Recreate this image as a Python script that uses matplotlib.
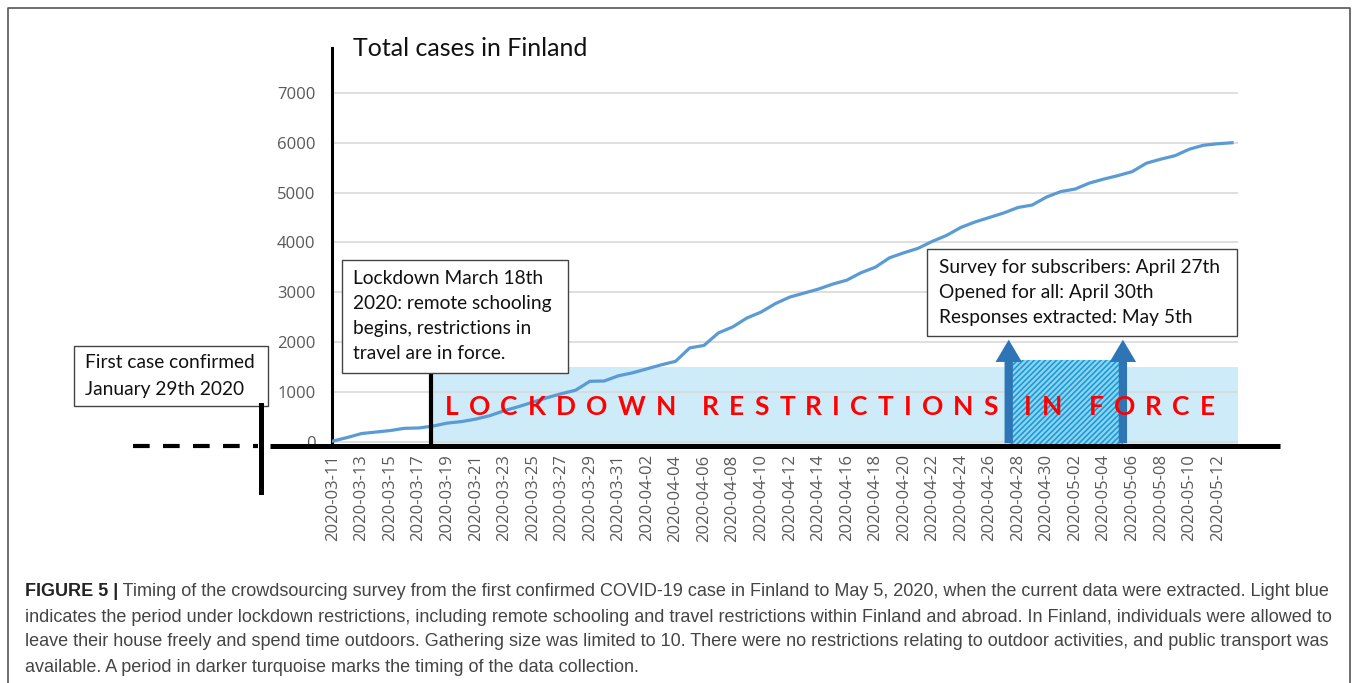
import matplotlib
matplotlib.use("Agg")
import matplotlib.pyplot as plt
from matplotlib.patches import Rectangle, FancyArrowPatch
import pandas as pd

# total confirmed cases, one value per day from 2020-03-11
first_day = "2020-03-11"
total_cases = [10, 80, 160, 190, 220, 265, 272, 310, 370, 400,
               450, 520, 620, 700, 790, 880, 960, 1030, 1210, 1215,
               1320, 1380, 1460, 1540, 1610, 1880, 1930, 2180, 2300, 2480,
               2600, 2770, 2900, 2980, 3060, 3160, 3240, 3390, 3500, 3690,
               3790, 3880, 4020, 4140, 4300, 4410, 4500, 4590, 4700, 4750,
               4910, 5020, 5070, 5190, 5270, 5340, 5420, 5590, 5670, 5740,
               5870, 5950, 5980, 6000]
y_ticks = [0, 1000, 2000, 3000, 4000, 5000, 6000, 7000]
lockdown_day = "2020-03-18"
survey_days = ["2020-04-27", "2020-05-05"]
lockdown_height = 1500
survey_height = 1640
arrow_height = 2100
banner_words = ["LOCKDOWN", "RESTRICTIONS", "IN", "FORCE"]

dates = pd.date_range(first_day, periods=len(total_cases))
days = list(range(len(total_cases)))
tick_days = days[::2]
tick_labels = [d.strftime("%Y-%m-%d") for d in dates[::2]]
lock_i = dates.get_loc(pd.Timestamp(lockdown_day))
s0 = dates.get_loc(pd.Timestamp(survey_days[0])) + 0.35
s1 = dates.get_loc(pd.Timestamp(survey_days[1])) + 0.35

W, H = 1357, 683
fig = plt.figure(figsize=(W / 100, H / 100), dpi=100)

# main plot area (pixel box 332..1280 x 48..446)
ax = fig.add_axes([332 / W, 1 - 446 / H, (1280 - 332) / W, (446 - 48) / H])
ax.set_xlim(-0.07, 66.36)
ax.set_ylim(-90, 7903)
ax.patch.set_visible(False)
for s in ["top", "right", "bottom"]:
    ax.spines[s].set_visible(False)
ax.spines["left"].set_linewidth(2.2)
ax.spines["left"].set_color("black")

grid_end = 63.45
ax.fill_between([lock_i - 0.1, grid_end], -90, lockdown_height, color="#cdebf8", lw=0, zorder=1)
ax.hlines(y_ticks, -0.07, grid_end, color="#d9d9d9", lw=1.2, zorder=2)
plt.rcParams["hatch.linewidth"] = 1.2
ax.fill_between([s0, s1], -90, survey_height, facecolor="#8fd3f0", edgecolor="#1a9cd8",
                hatch="//////", lw=0, zorder=3)
ax.plot(days, total_cases, color="#5b9bd5", lw=2.3, zorder=4)
ax.vlines(lock_i - 0.1, -90, 1430, color="black", lw=3, zorder=5)
for sx in [s0, s1]:
    ax.add_patch(FancyArrowPatch((sx, -90), (sx, arrow_height),
                                 arrowstyle="simple,head_length=1.6,head_width=1.9,tail_width=0.6",
                                 mutation_scale=10, color="#2e75b6", lw=0, zorder=6))

ax.set_yticks(y_ticks)
ax.set_yticklabels([str(v) for v in y_ticks], color="#595959", family="Open Sans", fontsize=12)
ax.set_xticks(tick_days)
ax.set_xticklabels(tick_labels, rotation=90, color="#595959", family="Open Sans", fontsize=12)
ax.tick_params(axis="y", length=0, pad=12)
ax.tick_params(axis="x", length=0, pad=6)

# overlay in pixel coordinates for frame, boxes, caption
ov = fig.add_axes([0, 0, 1, 1], zorder=5)
ov.set_xlim(0, W)
ov.set_ylim(H, 0)
ov.axis("off")
ov.patch.set_visible(False)

ov.plot([8, 8, 1350, 1350], [H, 8, 8, H], color="#555555", lw=1.2)
ov.plot([270, 1280], [446, 446], color="black", lw=3.6, solid_capstyle="butt")
ov.plot([133, 258], [446, 446], color="black", lw=3, dashes=(4, 3.2))
ov.plot([261, 261], [405, 492], color="black", lw=3.6)

# letter-spaced red banner, spread over 445..1215 px
renderer = fig.canvas.get_renderer()
banner_font = dict(fontsize=19, fontweight="bold", color="#ff0000", family="Lato",
                   va="center", ha="left")
letters = []
for word in banner_words:
    row = []
    for ch in word:
        t = ov.text(0, 407, ch, **banner_font)
        row.append((t, t.get_window_extent(renderer).width))
    letters.append(row)
n_letters = sum(len(r) for r in letters)
natural = sum(w for r in letters for _, w in r)
word_extra = 16
gap = (1215 - 445 - natural - word_extra * (len(letters) - 1)) / (n_letters - 1)
x = 445
for row in letters:
    for t, w in row:
        t.set_x(x)
        x += w + gap
    x += word_extra

ov.text(353, 48, "Total cases in Finland", family="Lato", fontsize=18, va="center", color="#111111")

box_font = dict(family="Lato", fontsize=13.8, va="center", color="#111111")
ov.add_patch(Rectangle((74, 346), 194, 60, fc="white", ec="#444444", lw=1))
for i, line in enumerate(["First case confirmed", "January 29th 2020"]):
    ov.text(85, 363 + 26 * i, line, **box_font)

ov.add_patch(Rectangle((342, 260), 226, 113, fc="white", ec="#444444", lw=1))
for i, line in enumerate(["Lockdown March 18th", "2020: remote schooling",
                          "begins, restrictions in", "travel are in force."]):
    ov.text(353, 279 + 24.7 * i, line, **box_font)

ov.add_patch(Rectangle((927, 249), 310, 87, fc="white", ec="#444444", lw=1))
for i, line in enumerate(["Survey for subscribers: April 27th", "Opened for all: April 30th",
                          "Responses extracted: May 5th"]):
    ov.text(939, 267 + 25.5 * i, line, **box_font)

cap_font = dict(family="Liberation Sans", fontsize=13, va="center")
bold = ov.text(25, 592, "FIGURE 5 |", fontweight="bold", color="#222222", **cap_font)
ov.annotate(" Timing of the crowdsourcing survey from the first confirmed COVID-19 case in Finland "
            "to May 5, 2020, when the current data were extracted. Light blue",
            xy=(1, 0.5), xycoords=bold, ha="left", color="#444444", **cap_font)
caption_rest = [
    "indicates the period under lockdown restrictions, including remote schooling and travel "
    "restrictions within Finland and abroad. In Finland, individuals were allowed to",
    "leave their house freely and spend time outdoors. Gathering size was limited to 10. There "
    "were no restrictions relating to outdoor activities, and public transport was",
    "available. A period in darker turquoise marks the timing of the data collection.",
]
for i, line in enumerate(caption_rest):
    ov.text(25, 617 + 25 * i, line, color="#444444", **cap_font)

fig.savefig("out.png", dpi=100)
